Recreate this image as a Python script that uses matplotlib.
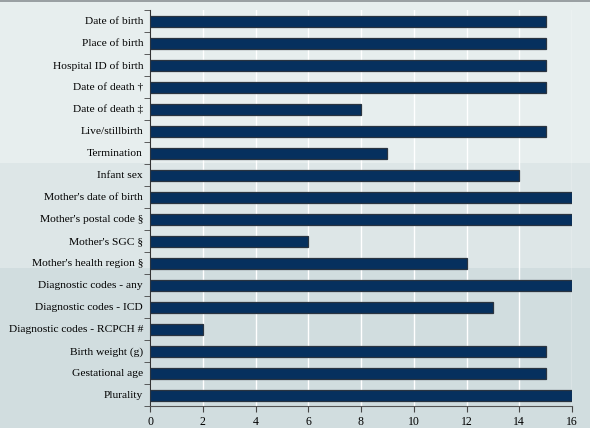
import matplotlib
matplotlib.use("Agg")
import matplotlib.pyplot as plt
from matplotlib.patches import Rectangle
import numpy as np

# ─────────────────────────────────────────────
labels = [
    "Date of birth", "Place of birth", "Hospital ID of birth",
    "Date of death \u2020", "Date of death \u2021", "Live/stillbirth",
    "Termination", "Infant sex", "Mother's date of birth",
    "Mother's postal code \u00a7", "Mother's SGC \u00a7",
    "Mother's health region \u00a7", "Diagnostic codes - any",
    "Diagnostic codes - ICD", "Diagnostic codes - RCPCH #",
    "Birth weight (g)", "Gestational age", "Plurality",
]
values = [15, 15, 15, 15, 8, 15, 9, 14, 16, 16, 6, 12, 16, 13, 2, 15, 15, 16]
xticks = [0, 2, 4, 6, 8, 10, 12, 14, 16]

plt.rcParams["font.family"] = ["Liberation Serif", "DejaVu Serif"]

fig = plt.figure(figsize=(5.9, 4.28), dpi=100)
fig.patch.set_facecolor("#e7eeee")
# slide-style background bands
fig.patches.append(Rectangle((0, 0), 1, 1 - 163 / 428, transform=fig.transFigure,
                             facecolor="#dde6e7", edgecolor="none", zorder=-3))
fig.patches.append(Rectangle((0, 0), 1, 1 - 268 / 428, transform=fig.transFigure,
                             facecolor="#d1dddf", edgecolor="none", zorder=-2))
fig.patches.append(Rectangle((0, 1 - 2 / 428), 1, 2 / 428, transform=fig.transFigure,
                             facecolor="#9aa0a3", edgecolor="none", zorder=-1))

ax = fig.add_axes([150 / 590, 1 - 406 / 428, 422 / 590, 396 / 428])
ax.set_facecolor("none")

y = np.arange(len(labels))
ax.barh(y, values, height=0.5, color="#06305e", edgecolor="#2a3440",
        linewidth=0.9, zorder=3)

ax.set_xlim(0, 16)
ax.set_ylim(len(labels) - 0.5, -0.5)
ax.set_xticks(xticks)
ax.set_xticklabels([str(t) for t in xticks], fontsize=8.5)
ax.set_yticks(y)
ax.set_yticklabels(labels, fontsize=8.25)
ax.tick_params(axis="y", length=0, pad=5)
ax.set_yticks(np.arange(-0.5, len(labels), 1), minor=True)
ax.tick_params(axis="y", which="minor", length=4, color="#444444")
ax.tick_params(axis="x", length=4, color="#444444", pad=3)

ax.grid(axis="x", color="white", linewidth=1.0, zorder=0)
for s in ["top", "right"]:
    ax.spines[s].set_visible(False)
ax.spines["left"].set_color("#333333")
ax.spines["bottom"].set_color("#555555")

fig.savefig("out.png", dpi=100, facecolor=fig.get_facecolor())
